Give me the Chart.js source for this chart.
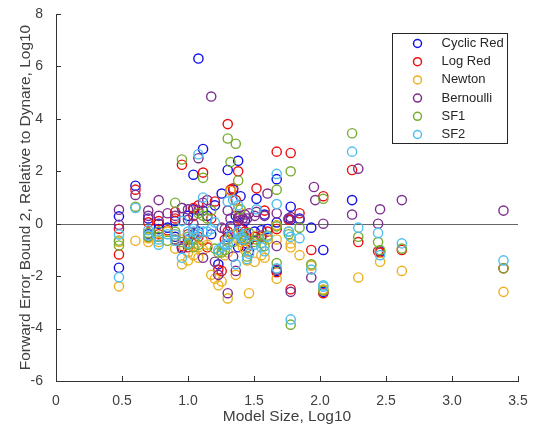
<!DOCTYPE html>
<html lang="en">
<head>
    <meta charset="UTF-8">
    <title>Forward Error Bound 2</title>
    <script src="https://cdn.jsdelivr.net/npm/chart.js"></script>
    <style>
        html, body { margin: 0; padding: 0; background: #fff; }
        #wrap { width: 537px; height: 430px; }
    </style>
</head>
<body>
    <div id="wrap"><canvas id="errChart" width="537" height="430"></canvas></div>

    <script>
        // model sizes (log10) and forward error bound per solver (log10), null = not plotted
        const modelSize = [0.477, 0.477, 0.602, 0.699, 0.699, 0.778, 0.778, 0.845, 0.903, 0.903,
                           0.954, 0.954, 1.0, 1.0, 1.041, 1.041, 1.079, 1.079, 1.114, 1.114,
                           1.146, 1.176, 1.204, 1.23, 1.255, 1.279, 1.301, 1.301, 1.322, 1.342,
                           1.362, 1.38, 1.38, 1.398, 1.415, 1.431, 1.447, 1.462, 1.505, 1.519,
                           1.556, 1.58, 1.602, 1.672, 1.672, 1.672, 1.763, 1.778, 1.778, 1.845,
                           1.934, 1.954, 1.964, 2.025, 2.025, 2.243, 2.29, 2.44, 2.455, 2.62, 3.39];
        const cyclicRed = [0.28, -1.68, 1.45, 0.2, -0.4, 0.0, -0.2, -0.15, -0.5, 0.1,
                           0.6, -0.9, 0.3, -0.6, 1.87, 0.55, 6.3, -0.3, 2.85, 0.5,
                           0.3, -0.4, 0.7, -1.55, 1.15, -0.8, 2.05, -0.5, -0.1, 1.3,
                           0.3, 2.4, -0.9, 1.05, -0.2, 0.1, -0.75, -1.05, -0.3, 0.95,
                           -0.25, 0.35, -0.2, 1.7, -1.8, 0.05, 0.2, 0.65, 0.15, 0.2,
                           -0.15, null, null, -1.0, -2.6, 0.9, null, null, -1.05, null, null];
        const logRed    = [-0.19, -1.17, 1.3, 0.05, -0.5, 0.1, -0.4, -0.25, 0.45, 0.2,
                           2.25, -0.85, -0.4, -0.9, 0.6, 0.3, 0.7, -0.5, 1.95, -0.65,
                           -0.9, 0.2, 0.85, -1.75, -1.8, -0.6, 3.8, -0.3, 1.3, 1.35,
                           0.9, 2.0, 0.2, -0.2, -0.4, -0.3, -0.9, -0.65, -0.5, 1.35,
                           -0.5, 0.5, -0.3, 2.75, -1.85, -0.2, 0.15, 2.7, -2.5, 0.4,
                           -1.0, null, null, 1.05, -2.65, 2.05, -0.7, -1.05, -1.1, -1.0, -1.7];
        const newton    = [-2.39, -0.7, -0.65, -0.7, -0.55, -0.5, -0.7, -0.3, -0.95, -0.4,
                           -1.55, -0.6, -1.4, -1.1, -1.2, -0.75, -0.9, -1.3, -1.0, -0.6,
                           -0.8, -1.95, -2.1, -2.35, -2.2, -1.2, -2.85, -1.1, 1.25, -0.4,
                           -1.95, 0.55, -0.6, -0.7, -0.9, -1.0, -1.4, -2.65, -1.45, -0.45,
                           -1.2, -1.3, -0.6, -0.05, -2.1, -0.6, -0.3, -0.75, -0.9, -1.2,
                           -1.6, null, null, -2.55, -2.5, null, -2.05, null, -1.45, -1.8, -2.6];
        const bernoulli = [0.53, -0.04, 1.1, 0.5, 0.3, 0.9, 0.3, 0.4, 0.3, -0.6,
                           0.6, -0.95, 0.55, 0.15, 0.0, -0.4, 2.5, 0.5, -1.3, 0.8,
                           0.9, 4.85, -1.45, -1.95, -0.15, -0.2, -2.65, 0.5, 0.2, -1.25,
                           -1.8, 0.25, 0.1, 0.3, 0.2, 0.35, 0.2, 0.4, 0.3, 0.45,
                           -0.45, 0.3, 1.15, 0.4, -0.85, -1.75, 0.2, 0.25, -2.6, 0.15,
                           -2.05, 1.4, 0.9, 0.0, null, 0.35, 2.1, 0.0, 0.55, 0.9, 0.5];
        const sf1       = [-0.64, -0.83, 0.65, -0.35, -0.5, -0.3, -0.5, -0.65, 0.8, -0.3,
                           2.45, -0.7, -0.8, -0.5, -0.9, -0.6, 0.4, -0.8, 1.75, 0.3,
                           0.2, 0.5, -0.95, -1.1, -1.1, -1.0, 3.25, -0.6, 2.35, -0.7,
                           3.05, 1.65, -0.4, 0.55, -0.5, -0.6, -1.25, -0.35, -0.7, -0.6,
                           -0.75, -0.85, -0.45, 1.3, -1.5, -0.1, -0.4, 2.0, -3.85, -0.15,
                           -1.55, null, null, 0.95, -2.55, 3.45, -0.5, -0.7, -1.0, -0.95, -1.7];
        const sf2       = [-0.41, -2.04, 0.6, -0.25, -0.45, -0.6, -0.8, -0.4, -0.65, -0.4,
                           -1.3, 0.1, -0.3, -0.75, -0.3, -0.2, 2.65, -0.4, 1.0, -0.3,
                           -0.3, -0.2, 0.05, -1.0, -0.9, -0.8, 0.85, -0.8, -0.45, 0.9,
                           -1.55, 0.7, -0.3, -0.5, -0.6, -0.4, -1.35, -1.15, -0.8, 0.55,
                           -0.9, -1.05, -0.5, 1.9, 0.75, -1.7, -0.3, -0.5, -3.65, -0.55,
                           -1.75, null, null, -2.35, -2.4, 2.75, -0.15, -0.35, -1.2, -0.75, -1.4];

        const seriesNames = ['Cyclic Red', 'Log Red', 'Newton', 'Bernoulli', 'SF1', 'SF2'];
        const seriesValues = [cyclicRed, logRed, newton, bernoulli, sf1, sf2];
        const seriesColors = ['#1010e8', '#e81010', '#EDB120', '#7E2F8E', '#77AC30', '#4DBEEE'];
        const xTicks = [0, 0.5, 1, 1.5, 2, 2.5, 3, 3.5];
        const yTicks = [-6, -4, -2, 0, 2, 4, 6, 8];

        const FONT = 'Arial, "Liberation Sans", Helvetica, sans-serif';
        const TEXT = '#404040';

        function toPoints(vals) {
            const pts = [];
            modelSize.forEach((x, i) => {
                if (vals[i] !== null) pts.push({ x: x, y: vals[i] });
            });
            return pts;
        }

        // zero reference line
        const zeroLine = {
            id: 'zeroLine',
            beforeDatasetsDraw(chart) {
                const { ctx, chartArea, scales } = chart;
                const y = Math.round(scales.y.getPixelForValue(0)) + 0.5;
                ctx.save();
                ctx.strokeStyle = '#666666';
                ctx.lineWidth = 1;
                ctx.beginPath();
                ctx.moveTo(chartArea.left, y);
                ctx.lineTo(chartArea.right, y);
                ctx.stroke();
                ctx.restore();
            }
        };

        // inward tick marks + legend box
        const decorations = {
            id: 'decorations',
            afterDraw(chart) {
                const { ctx, chartArea, scales } = chart;
                ctx.save();
                ctx.strokeStyle = '#333333';
                ctx.lineWidth = 1;
                ctx.beginPath();
                xTicks.forEach(v => {
                    const x = Math.round(scales.x.getPixelForValue(v)) + 0.5;
                    ctx.moveTo(x, chartArea.bottom);
                    ctx.lineTo(x, chartArea.bottom - 5);
                });
                yTicks.forEach(v => {
                    const y = Math.round(scales.y.getPixelForValue(v)) + 0.5;
                    ctx.moveTo(chartArea.left, y);
                    ctx.lineTo(chartArea.left + 5, y);
                });
                ctx.stroke();

                // legend
                const bx = 392.5, by = 33.5, bw = 115, bh = 110;
                ctx.fillStyle = '#fff';
                ctx.fillRect(bx, by, bw, bh);
                ctx.strokeStyle = '#262626';
                ctx.strokeRect(bx, by, bw, bh);
                ctx.font = '13px ' + FONT;
                ctx.textBaseline = 'middle';
                seriesNames.forEach((name, i) => {
                    const y = by + 10 + i * 18.2;
                    ctx.strokeStyle = seriesColors[i];
                    ctx.lineWidth = 1.5;
                    ctx.beginPath();
                    ctx.arc(bx + 25, y, 4, 0, Math.PI * 2);
                    ctx.stroke();
                    ctx.fillStyle = '#262626';
                    ctx.fillText(name, bx + 49, y);
                });
                ctx.restore();
            }
        };

        new Chart(document.getElementById('errChart'), {
            type: 'scatter',
            data: {
                datasets: seriesNames.map((name, i) => ({
                    label: name,
                    data: toPoints(seriesValues[i]),
                    borderColor: seriesColors[i],
                    backgroundColor: 'rgba(0,0,0,0)',
                    borderWidth: 1.4,
                    pointRadius: 4.6,
                    pointHoverRadius: 4.6,
                    order: seriesNames.length - i
                }))
            },
            options: {
                responsive: false,
                animation: false,
                events: [],
                layout: { padding: { top: 14, right: 19, left: 0, bottom: 0 } },
                plugins: { legend: { display: false }, tooltip: { enabled: false } },
                scales: {
                    x: {
                        type: 'linear', min: 0, max: 3.5,
                        afterBuildTicks: s => { s.ticks = xTicks.map(v => ({ value: v })); },
                        afterFit: s => { s.height = 49; },
                        grid: { display: false },
                        border: { display: true, color: '#333333', width: 1 },
                        ticks: { color: TEXT, font: { family: FONT, size: 14 }, padding: 4, maxRotation: 0 },
                        title: { display: true, text: 'Model Size, Log10', color: TEXT,
                                 font: { family: FONT, size: 15.5 }, padding: { top: 0 } }
                    },
                    y: {
                        type: 'linear', min: -6, max: 8,
                        afterBuildTicks: s => { s.ticks = yTicks.map(v => ({ value: v })); },
                        afterFit: s => { s.width = 56; },
                        grid: { display: false },
                        border: { display: true, color: '#333333', width: 1 },
                        ticks: { color: TEXT, font: { family: FONT, size: 14 }, padding: 5 },
                        title: { display: true, text: 'Forward Error Bound 2, Relative to Dynare, Log10', color: TEXT,
                                 font: { family: FONT, size: 15.5 }, padding: { top: 16, bottom: 0 } }
                    }
                }
            },
            plugins: [zeroLine, decorations]
        });
    </script>
</body>
</html>
